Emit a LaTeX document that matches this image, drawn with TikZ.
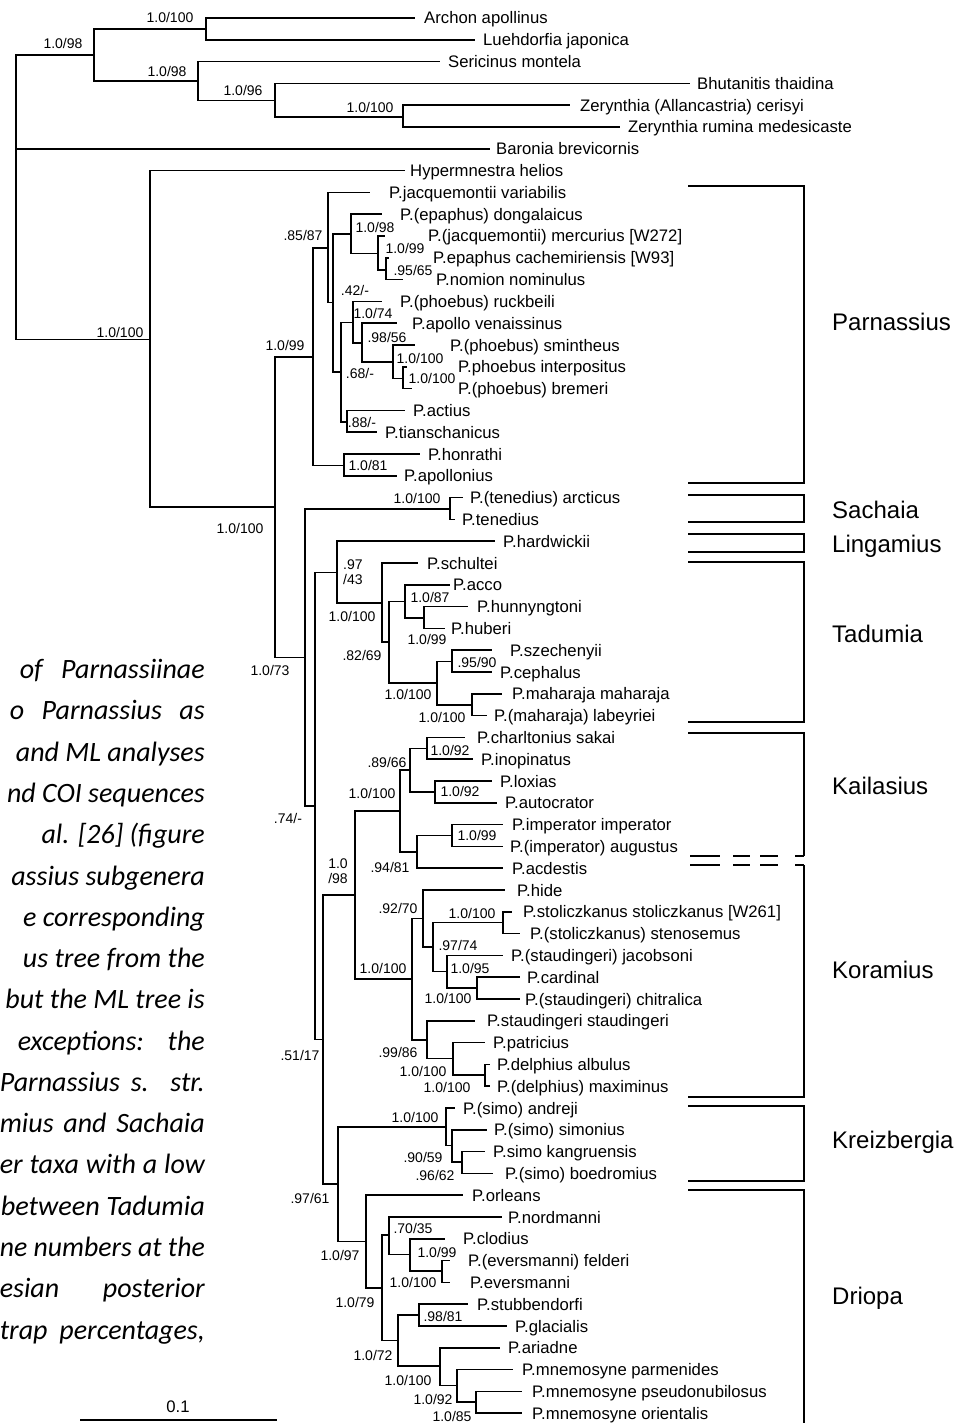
\documentclass[tikz,border=0pt]{standalone}
\usepackage{fontspec}
\setmainfont{Liberation Sans}
\newfontfamily\capfont{Carlito}
\usetikzlibrary{calc}

\tikzset{
  branch/.style={line width=1.6pt},
  bracket/.style={line width=1.2pt},
  taxon/.style={anchor=base west, inner sep=0pt, font=\fontsize{16.7}{18}\selectfont},
  support/.style={inner sep=0pt, font=\fontsize{14}{15}\selectfont},
  clade/.style={anchor=west, inner sep=0pt, font=\fontsize{24}{26}\selectfont},
  capline/.style={anchor=base east, inner sep=0pt, font=\capfont\itshape\fontsize{28}{30}\selectfont}
}

\begin{document}
\begin{tikzpicture}[x=1pt, y=-1pt]
    \clip (0,0) rectangle (972,1423);

    % taxa: row / tip of branch / start of name / name
    \foreach \i/\tip/\tx/\txt in {
        1/415/424/Archon apollinus, 2/475/483/Luehdorfia japonica,
        3/440/448/Sericinus montela, 4/690/697/Bhutanitis thaidina,
        5/570/580/Zerynthia (Allancastria) cerisyi, 6/620/628/Zerynthia rumina medesicaste,
        7/490/496/Baronia brevicornis, 8/405/410/Hypermnestra helios,
        9/370/389/P.jacquemontii variabilis, 10/382/400/P.(epaphus) dongalaicus,
        11/385/428/P.(jacquemontii) mercurius [W272], 12/389/433/P.epaphus cachemiriensis [W93],
        13/403/436/P.nomion nominulus, 14/382/400/P.(phoebus) ruckbeili,
        15/397/412/P.apollo venaissinus, 16/415/450/P.(phoebus) smintheus,
        17/407/458/P.phoebus interpositus, 18/412/458/P.(phoebus) bremeri,
        19/405/413/P.actius, 20/377/385/P.tianschanicus,
        21/420/428/P.honrathi, 22/397/404/P.apollonius,
        23/463/470/P.(tenedius) arcticus, 24/455/462/P.tenedius,
        25/495/503/P.hardwickii, 26/418/427/P.schultei,
        27/450/453/P.acco, 28/468/477/P.hunnyngtoni,
        29/445/451/P.huberi, 30/492/510/P.szechenyii,
        31/492/500/P.cephalus, 32/502/512/P.maharaja maharaja,
        33/487/494/P.(maharaja) labeyriei, 34/465/477/P.charltonius sakai,
        35/473/481/P.inopinatus, 36/492/500/P.loxias,
        37/497/505/P.autocrator, 38/503/512/P.imperator imperator,
        39/503/510/P.(imperator) augustus, 40/503/512/P.acdestis,
        41/505/517/P.hide, 42/512/523/P.stoliczkanus stoliczkanus [W261],
        43/520/530/P.(stoliczkanus) stenosemus, 44/503/511/P.(staudingeri) jacobsoni,
        45/520/527/P.cardinal, 46/520/525/P.(staudingeri) chitralica,
        47/475/487/P.staudingeri staudingeri, 48/485/493/P.patricius,
        49/490/497/P.delphius albulus, 50/490/497/P.(delphius) maximinus,
        51/455/463/P.(simo) andreji, 52/487/494/P.(simo) simonius,
        53/485/493/P.simo kangruensis, 54/493/505/P.(simo) boedromius,
        55/463/472/P.orleans, 56/502/508/P.nordmanni,
        57/445/463/P.clodius, 58/450/468/P.(eversmanni) felderi,
        59/450/470/P.eversmanni, 60/468/477/P.stubbendorfi,
        61/507/515/P.glacialis, 62/500/508/P.ariadne,
        63/513/522/P.mnemosyne parmenides, 64/522/532/P.mnemosyne pseudonubilosus,
        65/522/532/P.mnemosyne orientalis}
    {
        \coordinate (t\i) at (\tip, {18+21.8*(\i-1)});
        \node[taxon] (l\i) at (\tx, {24+21.8*(\i-1)}) {\txt};
    }

    % inner nodes of the tree
    \foreach \n/\x/\y in {
        root/16/150, nA/94/55, nB/206/29, nC/198/81, nD/275/100.5, nE/403/117,
        nHyp/150/339.5, nPar/275/507,
        nP10/313/357, nP8/328/248, nP7/333/302.5, nQ3/351/234, nQ2/378/253.5, nQ1/386/270,
        nP6/341/372, nP4/353/322.5, nP3/362/343, nP2/393/362, nP1/403/378.5,
        nP5/347/422, nP9/344/465.5,
        nPb/305/657.5, nTen/450/509, nPc/315/806,
        nLin/337/572.5, nTad/382/603, nTa/389/642, nTb/405/601.5, nTc/424/618,
        nTd/437/683, nTe/452/661.5, nTf/472/705,
        nPd/323/1039.5, nPe/355/895,
        nKai/400/811, nKa/410/770, nKb/427/748.5, nKc/435/792, nKd/417/852, nKe/452/835.5,
        nKor/412/979, nRa/423/918.5, nRb/433/947, nRc/503/922.5, nRd/447/971.5, nRe/477/988,
        nRf/427/1040, nRg/453/1058.5, nRh/485/1075,
        nPf/338/1184, nKre/446/1127, nKr1/452/1145.5, nKr2/462/1162,
        nDri/366/1241.5, nDa/382/1288, nDb/389/1235, nDc/410/1254.5, nDd/442/1271,
        nDe/398/1340.5, nDf/419/1315, nDg/440/1366, nDh/457/1385.5, nDi/476/1402}
        \coordinate (\n) at (\x,\y);

    % branches
    \foreach \p/\c in {
        root/nA, root/t7, root/nHyp,
        nA/nB, nA/nC, nB/t1, nB/t2, nC/t3, nC/nD, nD/t4, nD/nE, nE/t5, nE/t6,
        nHyp/t8, nHyp/nPar, nPar/nP10, nPar/nPb,
        nP10/nP8, nP10/nP9, nP8/t9, nP8/nP7, nP7/nQ3, nP7/nP6,
        nQ3/t10, nQ3/nQ2, nQ2/t11, nQ2/nQ1, nQ1/t12, nQ1/t13,
        nP6/nP4, nP6/nP5, nP4/t14, nP4/nP3, nP3/t15, nP3/nP2, nP2/t16, nP2/nP1,
        nP1/t17, nP1/t18, nP5/t19, nP5/t20, nP9/t21, nP9/t22,
        nPb/nTen, nPb/nPc, nTen/t23, nTen/t24, nPc/nLin, nPc/nPd,
        nLin/t25, nLin/nTad, nTad/t26, nTad/nTa, nTa/nTb, nTa/nTd,
        nTb/t27, nTb/nTc, nTc/t28, nTc/t29, nTd/nTe, nTd/nTf,
        nTe/t30, nTe/t31, nTf/t32, nTf/t33,
        nPd/nPe, nPd/nPf, nPe/nKai, nPe/nKor,
        nKai/nKa, nKai/nKd, nKa/nKb, nKa/nKc, nKb/t34, nKb/t35, nKc/t36, nKc/t37,
        nKd/nKe, nKd/t40, nKe/t38, nKe/t39,
        nKor/nRa, nKor/nRf, nRa/t41, nRa/nRb, nRb/nRc, nRb/nRd, nRc/t42, nRc/t43,
        nRd/t44, nRd/nRe, nRe/t45, nRe/t46, nRf/t47, nRf/nRg, nRg/t48, nRg/nRh,
        nRh/t49, nRh/t50,
        nPf/nKre, nPf/nDri, nKre/t51, nKre/nKr1, nKr1/t52, nKr1/nKr2, nKr2/t53, nKr2/t54,
        nDri/t55, nDri/nDa, nDa/nDb, nDa/nDe, nDb/t56, nDb/nDc, nDc/t57, nDc/nDd,
        nDd/t58, nDd/t59, nDe/nDf, nDe/nDg, nDf/t60, nDf/t61, nDg/t62, nDg/nDh,
        nDh/t63, nDh/nDi, nDi/t64, nDi/t65}
        \draw[branch] (\p) |- (\c);

    % posterior probability / bootstrap
    \node[support] (sA) at (63,43) {1.0/98};
    \node[support] (sB) at (170,17) {1.0/100};
    \node[support] (sC) at (167,71) {1.0/98};
    \node[support] (sD) at (243,90) {1.0/96};
    \node[support] (sE) at (370,107) {1.0/100};
    \node[support] (sHyp) at (120,332) {1.0/100};
    \node[support] (sPar) at (240,528) {1.0/100};
    \node[support] (sP10) at (285,345) {1.0/99};
    \node[support] (sP8) at (303,235) {.85/87};
    \node[support] (sP7) at (355,290) {.42/-};
    \node[support] (sQ3) at (375,227) {1.0/98};
    \node[support] (sQ2) at (405,248) {1.0/99};
    \node[support] (sQ1) at (413,270) {.95/65};
    \node[support] (sP4) at (373,313) {1.0/74};
    \node[support] (sP3) at (387,337) {.98/56};
    \node[support] (sP2) at (420,358) {1.0/100};
    \node[support] (sP1) at (432,378) {1.0/100};
    \node[support] (sP6) at (360,373) {.68/-};
    \node[support] (sP5) at (362,422) {.88/-};
    \node[support] (sP9) at (368,465) {1.0/81};
    \node[support] (sPb) at (270,670) {1.0/73};
    \node[support] (sTen) at (417,498) {1.0/100};
    \node[support] (sPc) at (288,818) {.74/-};
    \node[support, anchor=west, align=left] (sLin) at (343,572) {.97\\/43};
    \node[support] (sTad) at (352,616) {1.0/100};
    \node[support] (sTa) at (362,655) {.82/69};
    \node[support] (sTb) at (430,597) {1.0/87};
    \node[support] (sTc) at (427,639) {1.0/99};
    \node[support] (sTd) at (408,694) {1.0/100};
    \node[support] (sTe) at (477,662) {.95/90};
    \node[support] (sTf) at (442,717) {1.0/100};
    \node[support] (sPd) at (300,1055) {.51/17};
    \node[support, align=center] (sPe) at (338,871) {1.0\\/98};
    \node[support] (sKai) at (372,793) {1.0/100};
    \node[support] (sKa) at (387,762) {.89/66};
    \node[support] (sKb) at (450,750) {1.0/92};
    \node[support] (sKc) at (460,791) {1.0/92};
    \node[support] (sKd) at (390,867) {.94/81};
    \node[support] (sKe) at (477,835) {1.0/99};
    \node[support] (sKor) at (383,968) {1.0/100};
    \node[support] (sRa) at (398,908) {.92/70};
    \node[support] (sRb) at (458,945) {.97/74};
    \node[support] (sRc) at (472,913) {1.0/100};
    \node[support] (sRd) at (470,968) {1.0/95};
    \node[support] (sRe) at (448,998) {1.0/100};
    \node[support] (sRf) at (398,1052) {.99/86};
    \node[support] (sRg) at (423,1071) {1.0/100};
    \node[support] (sRh) at (447,1087) {1.0/100};
    \node[support] (sPf) at (310,1198) {.97/61};
    \node[support] (sKre) at (415,1117) {1.0/100};
    \node[support] (sKr1) at (423,1157) {.90/59};
    \node[support] (sKr2) at (435,1175) {.96/62};
    \node[support] (sDri) at (340,1255) {1.0/97};
    \node[support] (sDa) at (355,1302) {1.0/79};
    \node[support] (sDb) at (413,1228) {.70/35};
    \node[support] (sDc) at (437,1252) {1.0/99};
    \node[support] (sDd) at (413,1282) {1.0/100};
    \node[support] (sDe) at (373,1355) {1.0/72};
    \node[support] (sDf) at (443,1316) {.98/81};
    \node[support] (sDg) at (408,1380) {1.0/100};
    \node[support] (sDh) at (433,1399) {1.0/92};
    \node[support] (sDi) at (452,1416) {1.0/85};

    % subgenera
    \draw[bracket] (688,186) -| (804,483) -- (688,483);
    \draw[bracket] (688,495) -| (804,522) -- (688,522);
    \draw[bracket] (688,534) -| (804,552) -- (688,552);
    \draw[bracket] (688,562) -| (804,722) -- (688,722);
    \draw[bracket] (688,733) -| (804,856);
    \draw[bracket, dash pattern=on 30pt off 13pt on 17pt off 10pt on 18pt off 17pt on 9pt]
        (690,856) -- (804,856);
    \draw[bracket, dash pattern=on 30pt off 13pt on 17pt off 10pt on 18pt off 17pt on 9pt]
        (690,865) -- (804,865);
    \draw[bracket] (804,865) |- (688,1097);
    \draw[bracket] (688,1106) -| (804,1181) -- (688,1181);
    \draw[bracket] (688,1190) -| (804,1430);
    \node[clade] (cParn) at (832,322) {Parnassius};
    \node[clade] (cSach) at (832,510) {Sachaia};
    \node[clade] (cLing) at (832,546) {Lingamius};
    \node[clade] (cTad) at (832,634) {Tadumia};
    \node[clade] (cKai) at (832,786) {Kailasius};
    \node[clade] (cKor) at (832,970) {Koramius};
    \node[clade] (cKre) at (832,1142) {Kreizbergia};
    \node[clade] (cDri) at (832,1298) {Driopa};

    % scale bar
    \coordinate (sbL) at (80,1420);
    \coordinate (sbR) at (277,1420);
    \draw[line width=1.3pt] (sbL) -- (sbR);
    \node[support, font=\fontsize{16.7}{18}\selectfont] (sb) at (178,1407) {0.1};

    % caption text behind the tree
    \node[capline] (c1) at (205,678) {\makebox[185pt][s]{of Parnassiinae}};
    \node[capline] (c2) at (205,719) {\makebox[195pt][s]{o Parnassius as}};
    \node[capline] (c3) at (205,761) {and ML analyses};
    \node[capline] (c4) at (205,802) {nd COI sequences};
    \node[capline] (c5) at (205,843) {al. [26] (figure};
    \node[capline] (c6) at (205,885) {assius subgenera};
    \node[capline] (c7) at (205,926) {e corresponding};
    \node[capline] (c8) at (205,967) {us tree from the};
    \node[capline] (c9) at (205,1008) {but the ML tree is};
    \node[capline] (c10) at (205,1050) {\makebox[187pt][s]{exceptions: the}};
    \node[capline] (c11) at (205,1091) {\makebox[205pt][s]{Parnassius s. str.}};
    \node[capline] (c12) at (205,1132) {\makebox[205pt][s]{mius and Sachaia}};
    \node[capline] (c13) at (205,1173) {\makebox[205pt][s]{er taxa with a low}};
    \node[capline] (c14) at (205,1215) {\resizebox{204pt}{\height}{between Tadumia}};
    \node[capline] (c15) at (205,1256) {\resizebox{205pt}{\height}{ne numbers at the}};
    \node[capline] (c16) at (205,1297) {\makebox[205pt][s]{esian posterior}};
    \node[capline] (c17) at (205,1339) {\makebox[205pt][s]{trap percentages,}};
\end{tikzpicture}
\end{document}
